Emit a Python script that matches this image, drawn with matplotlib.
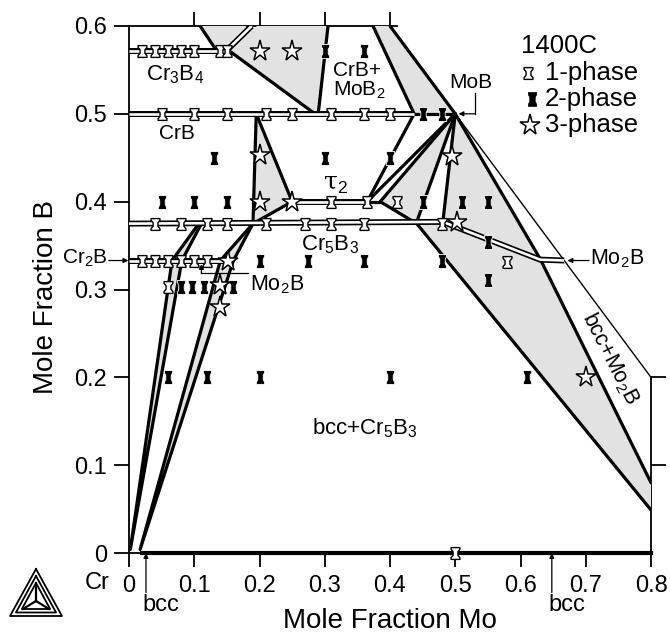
import numpy as np
import matplotlib.pyplot as plt
from matplotlib.path import Path
from matplotlib.patches import Polygon
from matplotlib.lines import Line2D

plt.rcParams['font.family'] = ['Liberation Sans', 'DejaVu Sans']
plt.rcParams['mathtext.fontset'] = 'custom'
plt.rcParams['mathtext.rm'] = 'Liberation Sans'
plt.rcParams['mathtext.it'] = 'Liberation Sans:italic'

# --- sample compositions (x = mole fraction Mo, y = mole fraction B) ---
one_phase_x = [0.02, 0.04, 0.06, 0.08, 0.10, 0.14, 0.15,
               0.05, 0.10, 0.15, 0.21, 0.25, 0.31, 0.36, 0.40,
               0.31, 0.365, 0.41,
               0.04, 0.08, 0.12, 0.15, 0.21, 0.27, 0.31, 0.36, 0.48,
               0.02, 0.04, 0.06, 0.08, 0.10, 0.12,
               0.06, 0.58, 0.50]
one_phase_y = [0.571] * 7 + [0.5] * 8 + [0.4] * 3 + [0.375] * 9 + [0.333] * 6 + \
              [0.303, 0.331, 0.0]

two_phase_x = [0.30, 0.36, 0.45, 0.48, 0.13, 0.30, 0.40,
               0.05, 0.10, 0.15, 0.45, 0.51, 0.55, 0.55,
               0.20, 0.275, 0.36, 0.48, 0.55,
               0.08, 0.097, 0.115, 0.16,
               0.06, 0.12, 0.20, 0.40, 0.61]
two_phase_y = [0.571, 0.571, 0.5, 0.5, 0.45, 0.45, 0.45,
               0.4, 0.4, 0.4, 0.4, 0.4, 0.4, 0.354,
               0.333, 0.333, 0.333, 0.333, 0.311,
               0.303, 0.303, 0.303, 0.303,
               0.2, 0.2, 0.2, 0.2, 0.2]

three_phase_x = [0.20, 0.25, 0.20, 0.495, 0.20, 0.25, 0.503, 0.152, 0.14, 0.14, 0.70]
three_phase_y = [0.571, 0.571, 0.453, 0.452, 0.40, 0.40, 0.377, 0.333, 0.305, 0.28, 0.20]

# --- single-phase lines (compounds / solid solutions) ---
single_phase_lines = [
    [(0.0, 0.571), (0.155, 0.571)],                  # Cr3B4
    [(0.188, 0.6), (0.148, 0.571)],
    [(0.0, 0.5), (0.437, 0.5)],                      # CrB
    [(0.25, 0.4), (0.365, 0.4)],                     # tau2
    [(0.0, 0.375), (0.481, 0.377)],                  # Cr5B3
    [(0.481, 0.377), (0.63, 0.334), (0.667, 0.333)], # Mo2B
    [(0.0, 0.333), (0.152, 0.333)],                  # Cr2B
]

# --- phase boundaries / tie lines ---
boundary_lines = [
    [(0.109, 0.6), (0.135, 0.571)],
    [(0.155, 0.571), (0.285, 0.5)],
    [(0.305, 0.6), (0.29, 0.5)],
    [(0.374, 0.6), (0.437, 0.5)],
    [(0.4, 0.6), (0.5, 0.5), (0.63, 0.335)],
    [(0.63, 0.335), (0.8, 0.08)],
    [(0.441, 0.375), (0.8, 0.049)],
    [(0.5, 0.5), (0.365, 0.4)],
    [(0.5, 0.5), (0.385, 0.4)],
    [(0.5, 0.5), (0.441, 0.377)],
    [(0.5, 0.5), (0.481, 0.377)],
    [(0.437, 0.5), (0.365, 0.4)],
    [(0.385, 0.4), (0.441, 0.375)],
    [(0.437, 0.5), (0.5, 0.5)],
    [(0.365, 0.4), (0.385, 0.4)],
    [(0.195, 0.5), (0.19, 0.375)],
    [(0.195, 0.5), (0.25, 0.4)],
    [(0.19, 0.375), (0.25, 0.4)],
    [(0.066, 0.333), (0.002, 0.004), (0.081, 0.333)],
    [(0.066, 0.333), (0.107, 0.375)],
    [(0.081, 0.333), (0.111, 0.375)],
    [(0.14, 0.333), (0.017, 0.004), (0.16, 0.333)],
    [(0.14, 0.333), (0.19, 0.375)],
    [(0.16, 0.333), (0.19, 0.375)],
]
mo_b_edge = [(0.5, 0.5), (0.667, 0.333), (0.8, 0.2)]

# --- three-phase regions (grey) ---
grey_regions = [
    [(0.109, 0.6), (0.18, 0.6), (0.14, 0.571), (0.135, 0.571)],
    [(0.196, 0.6), (0.305, 0.6), (0.29, 0.5), (0.285, 0.5), (0.155, 0.571)],
    [(0.374, 0.6), (0.4, 0.6), (0.5, 0.5), (0.437, 0.5)],
    [(0.195, 0.5), (0.25, 0.4), (0.19, 0.375)],
    [(0.5, 0.5), (0.385, 0.4), (0.441, 0.376)],
    [(0.5, 0.5), (0.63, 0.335), (0.8, 0.08), (0.8, 0.049), (0.441, 0.375), (0.481, 0.377)],
    [(0.002, 0.004), (0.066, 0.333), (0.107, 0.375), (0.111, 0.375), (0.081, 0.333)],
    [(0.017, 0.004), (0.14, 0.333), (0.188, 0.375), (0.192, 0.375), (0.16, 0.333)],
]

x_ticks = [0, 0.1, 0.2, 0.3, 0.4, 0.5, 0.6, 0.7, 0.8]
x_tick_labels = ['0', '0.1', '0.2', '0.3', '0.4', '0.5', '0.6', '0.7', '0.8']
y_ticks = [0, 0.1, 0.2, 0.3, 0.4, 0.5, 0.6]
y_tick_labels = ['0', '0.1', '0.2', '0.3', '0.4', '0.5', '0.6']

GREY = '#e2e2e2'
LW = 2.3


def spool(w, pinch):
    v = [(-w, 1), (w, 1), (w, 0.7), (pinch * w, 0.3), (pinch * w, -0.3), (w, -0.7),
         (w, -1), (-w, -1), (-w, -0.7), (-pinch * w, -0.3), (-pinch * w, 0.3),
         (-w, 0.7), (-w, 1)]
    return Path(v, closed=True)


one_marker = spool(0.75, 0.55)
two_marker = spool(0.6, 0.65)

fig = plt.figure(figsize=(6.7, 6.33), dpi=100)
ax = fig.add_axes([129 / 670, 1 - 553 / 633, 522 / 670, 527 / 633])
ax.set_xlim(0, 0.8)
ax.set_ylim(0, 0.6)

for poly in grey_regions:
    ax.add_patch(Polygon(poly, closed=True, facecolor=GREY, edgecolor='none', zorder=1))

for seg in boundary_lines:
    xs, ys = zip(*seg)
    ax.plot(xs, ys, color='k', lw=LW, solid_capstyle='round', zorder=2)
xs, ys = zip(*mo_b_edge)
ax.plot(xs, ys, color='k', lw=1.0, zorder=2)

for seg in single_phase_lines:
    xs, ys = zip(*seg)
    ax.plot(xs, ys, color='k', lw=4.3, solid_capstyle='butt', solid_joinstyle='miter', zorder=3)
    ax.plot(xs, ys, color='white', lw=1.9, solid_capstyle='butt', zorder=3)

# bcc along the Cr-Mo edge
ax.plot([0.02, 0.8], [0, 0], color='k', lw=3, clip_on=False, zorder=3)

ax.plot(one_phase_x, one_phase_y, ls='none', marker=one_marker, ms=8.5,
        mfc='white', mec='k', mew=1.0, clip_on=False, zorder=5)
ax.plot(two_phase_x, two_phase_y, ls='none', marker=two_marker, ms=10,
        mfc='k', mec='white', mew=0.6, zorder=5)
ax.plot(three_phase_x, three_phase_y, ls='none', marker='*', ms=15.5,
        mfc='white', mec='k', mew=1.1, zorder=6)

# axes styling
for s in ['top', 'right']:
    ax.spines[s].set_visible(False)
ax.spines['left'].set_linewidth(1.3)
ax.spines['bottom'].set_linewidth(1.3)
ax.set_xticks(x_ticks)
ax.set_xticklabels(x_tick_labels)
ax.set_yticks(y_ticks)
ax.set_yticklabels(y_tick_labels)
ax.tick_params(axis='x', direction='out', length=10, width=1.3, pad=6, labelsize=17)
ax.tick_params(axis='y', direction='out', length=11, width=1.3, pad=5, labelsize=17)

top = ax.secondary_xaxis('top')
top.set_xticks([0.1, 0.2, 0.3, 0.4])
top.set_xticklabels([])
top.spines['top'].set_bounds(0, 0.41)
top.spines['top'].set_linewidth(1.3)
top.tick_params(direction='out', length=10, width=1.3)

right = ax.secondary_yaxis('right')
right.set_yticks([0.1, 0.2])
right.set_yticklabels([])
right.spines['right'].set_bounds(0, 0.2)
right.spines['right'].set_linewidth(1.3)
right.tick_params(direction='out', length=11, width=1.3)

fig.text(46 / 670, 1 - 297 / 633, 'Mole Fraction B', rotation=90, ha='center', va='center', fontsize=20)
fig.text(390 / 670, 1 - 621 / 633, 'Mole Fraction Mo', ha='center', va='center', fontsize=20)
fig.text(97 / 670, 1 - 583 / 633, 'Cr', ha='center', va='center', fontsize=17)

# phase labels
lab = dict(fontsize=15, ha='center', va='center', zorder=7)
ax.text(0.07, 0.544, r'Cr$_3$B$_4$', fontsize=16, ha='center', va='center')
ax.text(0.073, 0.478, 'CrB', **lab)
ax.text(0.313, 0.537, 'CrB+\nMoB$_2$', fontsize=15, ha='left', va='center', linespacing=1.0)
ax.text(0.316, 0.42, r'τ$_2$', fontsize=18, ha='center', va='center', family=['DejaVu Serif'])
ax.text(0.308, 0.351, r'Cr$_5$B$_3$', fontsize=16, ha='center', va='center')
ax.text(0.362, 0.142, r'bcc+Cr$_5$B$_3$', fontsize=16, ha='center', va='center')
ax.text(0.737, 0.222, r'bcc+Mo$_2$B', fontsize=15.5, ha='center', va='center', rotation=-63)

arrow = dict(arrowstyle='-|>', lw=0.9, color='k', mutation_scale=7, shrinkA=0, shrinkB=0)
ax.text(0.524, 0.536, 'MoB', **lab)
ax.plot([0.53, 0.53], [0.524, 0.5], color='k', lw=0.9)
ax.annotate('', xy=(0.505, 0.5), xytext=(0.53, 0.5), arrowprops=arrow)

ax.text(0.706, 0.335, r'Mo$_2$B', fontsize=15.5, ha='left', va='center')
ax.annotate('', xy=(0.672, 0.333), xytext=(0.705, 0.333), arrowprops=arrow)

ax.text(0.185, 0.306, r'Mo$_2$B', fontsize=15.5, ha='left', va='center')
ax.plot([0.183, 0.111], [0.3185, 0.3185], color='k', lw=0.9, zorder=4)
ax.annotate('', xy=(0.111, 0.329), xytext=(0.111, 0.3185), arrowprops=arrow)

ax.text(-0.032, 0.336, r'Cr$_2$B', fontsize=15, ha='right', va='center', clip_on=False)
ax.annotate('', xy=(-0.001, 0.333), xytext=(-0.031, 0.333), arrowprops=arrow, annotation_clip=False)

for xb in (0.026, 0.648):
    ax.annotate('', xy=(xb, 0.0), xytext=(xb, -0.045), arrowprops=arrow, annotation_clip=False)
    ax.text(xb - 0.005, -0.059, 'bcc', fontsize=17, ha='left', va='center', clip_on=False)

# legend block
ax.text(0.601, 0.577, '1400C', fontsize=18.5, ha='left', va='center')
leg_y = [0.547, 0.517, 0.487]
leg_lbl = ['1-phase', '2-phase', '3-phase']
ax.plot([0.612], [leg_y[0]], marker=one_marker, ms=8.5, mfc='white', mec='k', mew=1.0)
ax.plot([0.617], [leg_y[1]], marker=two_marker, ms=10, mfc='k', mec='k', mew=0.5)
ax.plot([0.615], [leg_y[2]], marker='*', ms=15.5, mfc='white', mec='k', mew=1.1)
for yy, t in zip(leg_y, leg_lbl):
    ax.text(0.637, yy, t, fontsize=18.5, ha='left', va='center')

# Thermo-Calc style logo
def px(x, y):
    return x / 670, 1 - y / 633

cx, cy = 36, 601
for k, d in enumerate([0, 3.5, 7]):
    a = (36, 569 + 2 * d)
    b = (10 + 1.7 * d, 616 - d)
    c = (62 - 1.7 * d, 616 - d)
    pts = [a, b, c, a]
    fig.add_artist(Line2D([px(*p)[0] for p in pts], [px(*p)[1] for p in pts],
                          transform=fig.transFigure, color='k', lw=1.3))
for p in [(36, 583), (23, 609), (49, 609)]:
    fig.add_artist(Line2D([px(cx, cy)[0], px(*p)[0]], [px(cx, cy)[1], px(*p)[1]],
                          transform=fig.transFigure, color='k', lw=1.6))

fig.savefig('out.png', dpi=100)
